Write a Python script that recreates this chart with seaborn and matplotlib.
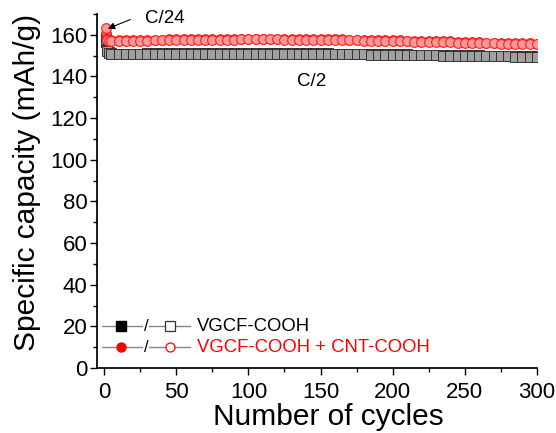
import pandas as pd
import matplotlib
matplotlib.use('Agg')
import matplotlib.pyplot as plt
import seaborn as sns

# cycle numbers (first cycles at C/24, then C/2)
cycles = [1, 2, 3] + list(range(5, 301, 5))

# VGCF-COOH + CNT-COOH
red_dis = [163.2, 157.6, 157.1,
           157.0, 157.0, 157.1, 157.1, 157.2, 157.2, 157.3, 157.3, 157.4, 157.4,
           157.5, 157.5, 157.6, 157.6, 157.6, 157.7, 157.7, 157.7, 157.8, 157.8,
           157.8, 157.8, 157.8, 157.8, 157.7, 157.7, 157.7, 157.6, 157.6, 157.5,
           157.5, 157.4, 157.4, 157.3, 157.3, 157.2, 157.1, 157.1, 157.0, 156.9,
           156.9, 156.8, 156.7, 156.7, 156.6, 156.5, 156.4, 156.4, 156.3, 156.2,
           156.1, 156.0, 155.9, 155.9, 155.8, 155.7, 155.6, 155.6, 155.5, 155.4]
red_ch = [161.0, 158.0, 157.5,
          157.4, 157.4, 157.5, 157.5, 157.6, 157.6, 157.7, 157.7, 157.8, 157.8,
          157.9, 157.9, 158.0, 158.0, 158.0, 158.1, 158.1, 158.1, 158.2, 158.2,
          158.2, 158.2, 158.2, 158.2, 158.1, 158.1, 158.1, 158.0, 158.0, 157.9,
          157.9, 157.8, 157.8, 157.7, 157.7, 157.6, 157.5, 157.5, 157.4, 157.3,
          157.3, 157.2, 157.1, 157.1, 157.0, 156.9, 156.8, 156.8, 156.7, 156.6,
          156.5, 156.4, 156.3, 156.3, 156.2, 156.1, 156.0, 156.0, 155.9, 155.8]

# VGCF-COOH
blk_dis = [157.8, 152.3, 151.3,
           150.8, 150.7, 150.7, 150.7, 150.7, 150.8, 150.8, 150.8, 150.8, 150.8,
           150.9, 150.9, 150.9, 150.9, 150.9, 150.9, 151.0, 151.0, 151.0, 151.0,
           151.0, 151.0, 151.0, 151.0, 150.9, 150.9, 150.9, 150.9, 150.8, 150.8,
           150.8, 150.7, 150.7, 150.7, 150.6, 150.6, 150.5, 150.5, 150.4, 150.4,
           150.3, 150.3, 150.2, 150.2, 150.1, 150.1, 150.0, 150.0, 149.9, 149.9,
           149.8, 149.8, 149.7, 149.7, 149.6, 149.6, 149.5, 149.5, 149.4, 149.3]
blk_ch = [156.5, 152.6, 151.6,
          151.1, 151.0, 151.0, 151.0, 151.0, 151.1, 151.1, 151.1, 151.1, 151.1,
          151.2, 151.2, 151.2, 151.2, 151.2, 151.2, 151.3, 151.3, 151.3, 151.3,
          151.3, 151.3, 151.3, 151.3, 151.2, 151.2, 151.2, 151.2, 151.1, 151.1,
          151.1, 151.0, 151.0, 151.0, 150.9, 150.9, 150.8, 150.8, 150.7, 150.7,
          150.6, 150.6, 150.5, 150.5, 150.4, 150.4, 150.3, 150.3, 150.2, 150.2,
          150.1, 150.1, 150.0, 150.0, 149.9, 149.9, 149.8, 149.8, 149.7, 149.6]

df = pd.DataFrame({'cycle': cycles, 'red_dis': red_dis, 'red_ch': red_ch,
                   'blk_dis': blk_dis, 'blk_ch': blk_ch})

sns.set_theme(style='ticks')
plt.rcParams['font.family'] = ['Liberation Sans', 'DejaVu Sans']
plt.rcParams['text.color'] = 'black'
plt.rcParams['axes.labelcolor'] = 'black'
plt.rcParams['xtick.color'] = 'black'
plt.rcParams['ytick.color'] = 'black'
plt.rcParams['axes.edgecolor'] = 'black'

fig = plt.figure(figsize=(5.56, 4.33), dpi=100)
ax = fig.add_axes([0.1745, 0.150, 0.791, 0.8177])

# black squares
sns.lineplot(data=df, x='cycle', y='blk_ch', ax=ax, color='#333333', lw=1.0,
             marker='s', markersize=7, markerfacecolor='#777777',
             markeredgecolor='#222222', markeredgewidth=0.6)
sns.lineplot(data=df, x='cycle', y='blk_dis', ax=ax, color='#222222', lw=1.0,
             marker='s', markersize=7, markerfacecolor='#a0a0a0',
             markeredgecolor='#333333', markeredgewidth=0.7)
# red circles
sns.lineplot(data=df, x='cycle', y='red_ch', ax=ax, color='red', lw=1.0,
             marker='o', markersize=7, markerfacecolor='#ff5555',
             markeredgecolor='red', markeredgewidth=0.6)
sns.lineplot(data=df, x='cycle', y='red_dis', ax=ax, color='red', lw=1.0,
             marker='o', markersize=7, markerfacecolor='#ff9a9a',
             markeredgecolor='#ff2020', markeredgewidth=0.8)

ax.set_xlim(-5, 300)
ax.set_ylim(0, 170)
ax.set_xticks(range(0, 301, 50))
ax.set_xticks(range(25, 300, 50), minor=True)
ax.set_yticks(range(0, 161, 20))
ax.set_yticks(range(10, 171, 10), minor=True)
ax.tick_params(axis='both', which='major', labelsize=16, length=5, width=1,
               direction='out', pad=2)
ax.tick_params(axis='x', which='major', pad=5)
ax.tick_params(axis='both', which='minor', length=3, width=1, direction='out')
ax.set_xlabel('Number of cycles', fontsize=21.5)
ax.set_ylabel('Specific capacity (mAh/g)', fontsize=21.5)
ax.xaxis.set_label_coords(0.525, -0.098)
ax.yaxis.set_label_coords(-0.128, 0.523)
sns.despine(ax=ax)
ax.spines['bottom'].set_bounds(-5, 300)

# annotations
ax.annotate('', xy=(2.5, 163), xytext=(18, 167.3),
            arrowprops=dict(arrowstyle='-|>', color='black', lw=0.8,
                            mutation_scale=10, shrinkA=0, shrinkB=0))
ax.text(28, 168, 'C/24', fontsize=13.5, ha='left', va='center')
ax.text(144, 137.5, 'C/2', fontsize=13.5, ha='center', va='center')

# hand-built legend
rows = [(0.1186, 'VGCF-COOH', 'black', 's'),
        (0.0593, 'VGCF-COOH + CNT-COOH', 'red', 'o')]
for yy, label, col, mk in rows:
    ax.plot([0.011, 0.211], [yy, yy], transform=ax.transAxes, color='#888888', lw=1, zorder=3)
    ax.plot([0.0545], [yy], transform=ax.transAxes, marker=mk, markersize=6.5,
            color=col, markeredgecolor=col, zorder=4)
    ax.plot([0.166], [yy], transform=ax.transAxes, marker=mk, markersize=6.5,
            markerfacecolor='white', markeredgecolor=col if col == 'red' else '#333333',
            markeredgewidth=0.9, zorder=4)
    ax.text(0.111, yy, '/', transform=ax.transAxes, fontsize=12, ha='center',
            va='center', color='black', zorder=5,
            bbox=dict(facecolor='white', edgecolor='none', pad=0.5))
    ax.text(0.227, yy, label, transform=ax.transAxes, fontsize=13.3, color=col,
            ha='left', va='center')

fig.savefig('out.png', dpi=100)
